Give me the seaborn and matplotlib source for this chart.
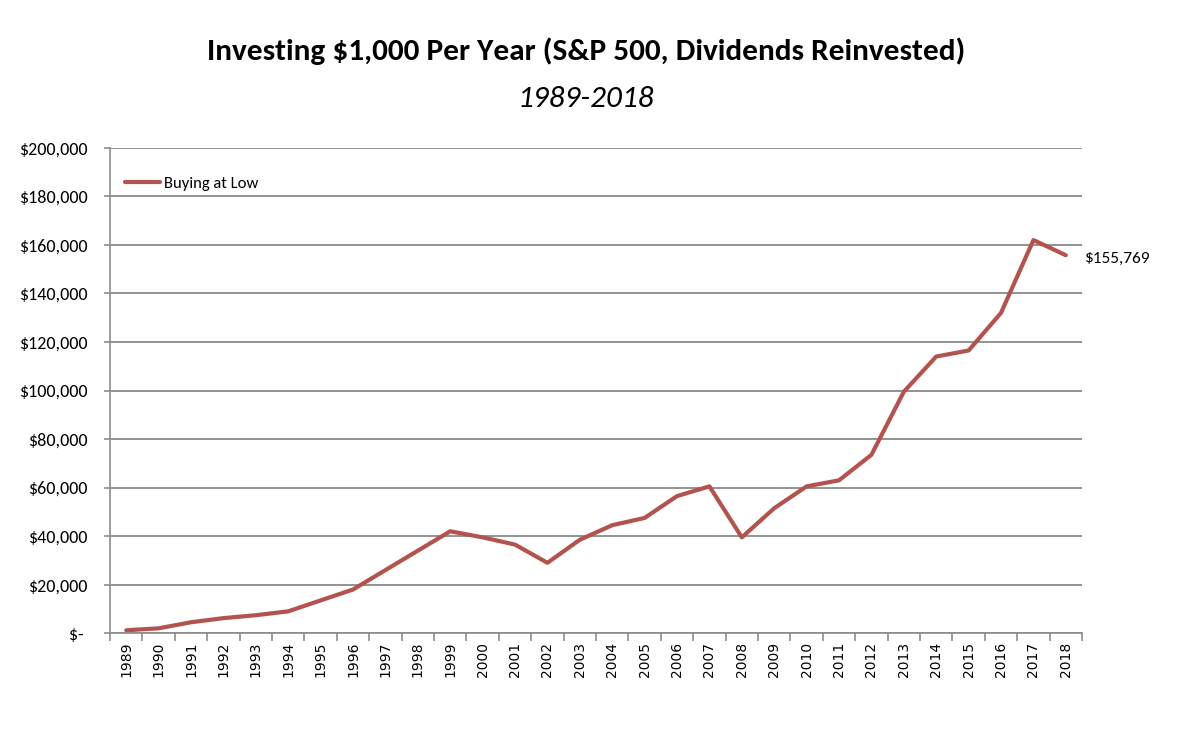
import matplotlib
matplotlib.use('Agg')
import matplotlib.pyplot as plt
import seaborn as sns
import pandas as pd

# data
years = [str(y) for y in range(1989, 2019)]
buying_at_low = [1200, 2000, 4500, 6200, 7400, 9000, 13500, 18000, 26000, 34000,
                 42000, 39500, 36500, 29000, 38500, 44500, 47500, 56500, 60500, 39500,
                 51500, 60500, 63000, 73500, 99500, 114000, 116500, 132000, 162000, 155769]
y_ticks = list(range(0, 200001, 20000))
y_labels = ['$- '] + ['${:,}'.format(v) for v in y_ticks[1:]]

df = pd.DataFrame({'year': years, 'value': buying_at_low})

# Calibri look-alike first, then plain fallbacks
calibri = ['Carlito', 'Liberation Sans Narrow', 'DejaVu Sans']

sns.set_style('white')
plt.rcParams['font.family'] = ['DejaVu Sans']
plt.rcParams['text.color'] = 'black'
plt.rcParams['xtick.color'] = 'black'
plt.rcParams['ytick.color'] = 'black'

fig = plt.figure(figsize=(11.96, 7.32), dpi=100)
ax = fig.add_axes([0.092, 0.135, 0.8127, 0.663])

line_color = '#B3534E'
sns.lineplot(data=df, x='year', y='value', ax=ax, color=line_color, linewidth=3,
             label='Buying at Low', sort=False)

ax.set_xlim(-0.5, len(years) - 0.5)
ax.set_ylim(0, 200000)
ax.set_yticks(y_ticks)
ax.set_yticklabels(y_labels, family=calibri, fontsize=13)
ax.set_xticks(range(len(years)))
ax.set_xticklabels(years, rotation=90, fontsize=10)
ax.tick_params(axis='x', which='major', length=0, pad=6)
ax.set_xticks([i - 0.5 for i in range(len(years) + 1)], minor=True)
ax.tick_params(axis='x', which='minor', bottom=True, length=5.8, color='#8c8c8c', width=1.2)
ax.tick_params(axis='y', left=True, length=4.5, color='#8c8c8c', width=1.2, pad=11.5)
ax.set_xlabel('')
ax.set_ylabel('')

ax.yaxis.grid(True, color='#8a8a8a', linewidth=1.3)
ax.set_axisbelow(True)
for side in ['top', 'right']:
    ax.spines[side].set_visible(False)
for side in ['left', 'bottom']:
    ax.spines[side].set_color('#8c8c8c')
    ax.spines[side].set_linewidth(1.2)

leg = ax.legend(loc='upper left', bbox_to_anchor=(0.0, 0.972), frameon=False,
                handlelength=2.1, handletextpad=0.25, prop={'family': calibri, 'size': 12})

ax.text(len(years) - 0.5 + 0.05, buying_at_low[-1] - 1500, '${:,}'.format(buying_at_low[-1]),
        family=calibri, fontsize=12.5, va='center', ha='left')

fig.text(0.49, 0.930, 'Investing $1,000 Per Year (S&P 500, Dividends Reinvested)',
         family=calibri, fontweight='bold', fontsize=22.5, ha='center', va='center')
fig.text(0.49, 0.865, '1989-2018', family=calibri, fontstyle='italic',
         fontsize=22.5, ha='center', va='center')

fig.savefig('out.png', dpi=100)
